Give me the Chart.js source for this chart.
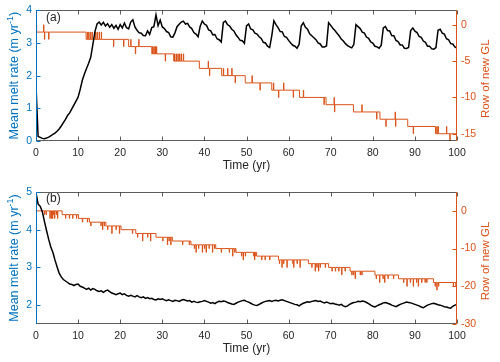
<!DOCTYPE html>
<html>
<head>
<meta charset="utf-8">
<script src="https://cdn.jsdelivr.net/npm/chart.js@4.4.0/dist/chart.umd.min.js"></script>
<style>
  html, body { margin: 0; padding: 0; background: #fff; }
  canvas { display: block; }
</style>
</head>
<body>
<canvas id="panel-a" width="500" height="181"></canvas>
<canvas id="panel-b" width="500" height="181"></canvas>
<script>
// Sampling interval of the melt-rate series (yr)
const meltStep = 0.5;

// Panel (a): mean melt rate, t = 0..100 every 0.5 yr
const meltA = [
  1.70, 0.14, 0.11, 0.08, 0.07, 0.09, 0.12, 0.16, 0.20, 0.24,
  0.30, 0.37, 0.46, 0.56, 0.66, 0.78, 0.86, 0.98, 1.10, 1.22,
  1.34, 1.58, 1.86, 2.05, 2.22, 2.38, 2.56, 2.95, 3.35, 3.58,
  3.64, 3.55, 3.63, 3.52, 3.59, 3.48, 3.56, 3.45, 3.54, 3.42,
  3.56, 3.46, 3.61, 3.47, 3.43, 3.64, 3.71, 3.49, 3.39, 3.31,
  3.30, 3.23, 3.22, 3.37, 3.26, 3.47, 3.50, 3.86, 3.53, 3.70,
  3.49, 3.44, 3.35, 3.32, 3.19, 3.18, 3.31, 3.50, 3.57, 3.64,
  3.67, 3.58, 3.60, 3.49, 3.44, 3.32, 3.27, 3.19, 3.51, 3.67,
  3.58, 3.54, 3.40, 3.37, 3.25, 3.26, 3.13, 3.10, 3.03, 3.63,
  3.67, 3.56, 3.52, 3.42, 3.37, 3.25, 3.17, 3.08, 3.07, 2.99,
  3.52, 3.58, 3.43, 3.40, 3.30, 3.27, 3.19, 3.14, 3.02, 3.00,
  2.90, 2.86, 3.22, 3.68, 3.56, 3.47, 3.35, 3.34, 3.20, 3.17,
  3.08, 3.00, 2.93, 2.90, 2.84, 2.96, 3.52, 3.62, 3.48, 3.42,
  3.28, 3.22, 3.16, 3.10, 3.00, 2.97, 2.88, 2.88, 2.91, 3.62,
  3.54, 3.45, 3.38, 3.30, 3.22, 3.12, 3.06, 2.98, 2.92, 2.88,
  2.85, 2.96, 3.56, 3.50, 3.44, 3.33, 3.30, 3.18, 3.14, 3.03,
  3.00, 2.90, 2.88, 2.84, 2.93, 3.46, 3.50, 3.38, 3.37, 3.23,
  3.22, 3.08, 3.04, 2.94, 2.94, 2.84, 2.83, 2.86, 3.38, 3.46,
  3.36, 3.32, 3.20, 3.17, 3.06, 3.02, 2.90, 2.90, 2.82, 2.81,
  2.86, 3.39, 3.42, 3.30, 3.27, 3.13, 3.10, 2.98, 2.97, 2.88,
  2.84
];

// Panel (a): row of new grounding line (steps, then short excursions)
const glStepTimesA = [0, 0.15, 11.9, 22.0, 27.5, 32.7, 38.8, 44.1, 49.7, 56.0, 62.6, 68.9, 75.4, 81.7, 88.3, 94.9];
const glStepRowsA  = [0, -1, -2, -3, -4, -5, -6, -7, -8, -9, -10, -11, -12, -13, -14, -15];
const glSpikeTimesA = [1.8, 2.0, 3.0, 12.2, 12.5, 12.9, 13.3, 14.1, 14.5, 15.0, 15.5,
  18.4, 20.8, 22.5, 23.6, 24.4, 27.7, 28.0, 28.3, 28.6, 30.7,
  32.9, 33.3, 33.7, 34.1, 34.5, 35.0, 40.9, 41.2, 44.5, 45.5, 46.5, 47.3,
  51.3, 53.2, 56.4, 57.6, 58.8, 61.1, 63.5, 68.4, 70.8, 70.9, 77.4,
  80.9, 83.1, 85.3, 85.4, 89.6, 95.2, 95.5, 97.5, 98.3];
const glSpikeRowsA = [0, -2, -2, -1, -1, -1, -1, -1, -1, -1, -1,
  -3, -3, -2, -4, -2, -3, -3, -3, -3, -5,
  -4, -4, -4, -4, -4, -4, -5, -7, -6, -6, -6, -8,
  -7, -9, -8, -10, -8, -10, -9, -11, -10, -12, -11,
  -13, -14, -12, -14, -15, -14, -14, -14, -16];

// Panel (b): mean melt rate, t = 0..100 every 0.5 yr
const meltB = [
  4.98, 4.68, 4.62, 4.48, 4.22, 3.98, 3.75, 3.55, 3.40, 3.20,
  3.02, 2.85, 2.75, 2.68, 2.64, 2.60, 2.56, 2.55, 2.52, 2.55,
  2.56, 2.50, 2.48, 2.45, 2.42, 2.45, 2.40, 2.44, 2.42, 2.38,
  2.36, 2.38, 2.34, 2.38, 2.40, 2.36, 2.32, 2.30, 2.28, 2.30,
  2.32, 2.28, 2.30, 2.26, 2.24, 2.26, 2.24, 2.22, 2.25, 2.22,
  2.20, 2.22, 2.18, 2.20, 2.17, 2.18, 2.15, 2.14, 2.17, 2.15,
  2.17, 2.14, 2.12, 2.14, 2.12, 2.10, 2.13, 2.12, 2.10, 2.13,
  2.15, 2.13, 2.11, 2.12, 2.08, 2.10, 2.08, 2.07, 2.09, 2.10,
  2.12, 2.10, 2.08, 2.05, 2.07, 2.04, 2.08, 2.10, 2.09, 2.11,
  2.10, 2.07, 2.05, 2.03, 2.02, 2.05, 2.08, 2.10, 2.12, 2.13,
  2.10, 2.08, 2.05, 2.02, 2.00, 1.99, 2.02, 2.05, 2.08, 2.10,
  2.11, 2.12, 2.10, 2.12, 2.13, 2.11, 2.13, 2.14, 2.12, 2.10,
  2.08, 2.06, 2.04, 2.02, 2.01, 1.98, 2.02, 2.05, 2.07, 2.09,
  2.08, 2.10, 2.11, 2.12, 2.10, 2.11, 2.08, 2.06, 2.08, 2.06,
  2.04, 2.05, 2.03, 2.02, 2.00, 2.02, 1.98, 1.96, 1.98, 2.02,
  2.05, 2.07, 2.08, 2.10, 2.09, 2.11, 2.10, 2.07, 2.04, 2.00,
  1.97, 1.95, 1.98, 2.01, 2.03, 2.06, 2.07, 2.05, 2.03, 2.00,
  1.98, 1.96, 1.99, 2.02, 2.04, 2.06, 2.08, 2.07, 2.06, 2.04,
  2.02, 2.00, 1.98, 1.95, 1.93, 1.97, 2.00, 2.02, 2.04, 2.05,
  2.03, 2.01, 2.00, 1.98, 1.96, 1.95, 1.93, 1.92, 1.97, 2.00,
  2.02
];

// Panel (b): row of new grounding line
const glStepTimesB = [0, 6.2, 10.1, 12.7, 16.6, 20.2, 23.7, 28.5, 32.4, 36.8, 42.7, 47.5, 52.4, 57.6, 64.7, 69.5, 74.6, 80.5, 86.1, 94.4, 99.7];
const glStepRowsB  = [0, -1, -2, -3, -4, -5, -6, -7, -8, -9, -10, -11, -12, -13, -14, -15, -16, -17, -18, -19, -20];
const glSpikeTimesB = [2.0, 2.4, 3.3, 3.6, 3.9, 4.1, 4.4, 4.8, 5.1,
  7.0, 7.9, 8.7, 9.6, 11.0, 12.2, 13.0, 15.4, 15.8, 16.2,
  17.0, 18.0, 19.0, 19.8, 22.9, 24.1, 25.3, 26.5, 27.2,
  30.1, 31.2, 31.6, 32.0, 34.8, 36.4,
  37.6, 38.0, 38.6, 39.5, 40.0, 40.4, 41.1, 41.9, 42.4,
  44.0, 45.9, 46.7, 47.2, 48.8, 49.2, 49.7, 51.7, 51.9, 52.0,
  53.6, 54.4, 55.5, 57.8, 58.4, 58.8, 59.6, 61.0, 61.2, 62.0, 62.7,
  65.5, 66.3, 66.7, 67.1, 67.5, 68.7, 70.3, 71.1, 71.9, 72.6, 73.4,
  75.0, 75.4, 75.8, 77.0, 77.4, 80.8, 81.6, 82.4, 82.8, 83.6, 84.9,
  87.3, 88.1, 88.9, 89.6, 90.4, 90.8, 91.6, 92.4, 92.8,
  94.8, 95.2, 95.6, 99.1];
const glSpikeRowsB = [-1, -1, -2, -2, -2, -1, -2, -1, -2,
  -2, -2, -2, -2, -3, -3, -4, -4, -5, -4,
  -5, -6, -5, -6, -6, -7, -8, -7, -8,
  -8, -9, -8, -9, -9, -9,
  -10, -11, -10, -11, -10, -11, -10, -11, -10,
  -11, -11, -12, -11, -12, -13, -12, -12, -13, -12,
  -13, -13, -13, -14, -15, -14, -15, -14, -15, -14, -15,
  -15, -16, -15, -16, -15, -15, -16, -16, -16, -17, -16,
  -17, -17, -18, -17, -17, -18, -19, -18, -19, -18, -18,
  -19, -20, -19, -20, -19, -20, -19, -19, -19,
  -20, -21, -20, -20];

// Tick labels
const xTicks = [0, 10, 20, 30, 40, 50, 60, 70, 80, 90, 100];
const leftTicksA = [0, 1, 2, 3, 4];
const rightTicksA = [-15, -10, -5, 0];
const leftTicksB = [2, 3, 4, 5];
const rightTicksB = [-30, -20, -10, 0];

const BLUE = '#0072BD';
const ORANGE = '#D95319';
const DARK = '#262626';
const FONT = '"Liberation Sans", Arial, Helvetica, sans-serif';
const TICK_FONT = { family: FONT, size: 10.5 };

function meltPoints(values) {
  return values.map((v, i) => ({ x: i * meltStep, y: v }));
}

// step function plus one-sample excursions
function glPoints(stepTimes, stepRows, spikeTimes, spikeRows) {
  const levelAt = t => {
    let r = stepRows[0];
    stepTimes.forEach((s, i) => { if (s <= t) r = stepRows[i]; });
    return r;
  };
  const pts = stepTimes.map((t, i) => ({ x: t, y: stepRows[i] }));
  spikeTimes.forEach((t, i) => {
    pts.push({ x: t, y: spikeRows[i] });
    pts.push({ x: t + 0.08, y: levelAt(t) });
  });
  pts.push({ x: 100, y: levelAt(100) });
  pts.sort((p, q) => p.x - q.x);
  return pts;
}

function fixedTicks(values) {
  return scale => { scale.ticks = values.map(v => ({ value: v })); };
}

// MATLAB-like box, inward ticks and axis titles
const matlabAxes = {
  id: 'matlabAxes',
  afterDraw(chart, args, opts) {
    const ctx = chart.ctx;
    const a = chart.chartArea;
    const sx = chart.scales.x, yL = chart.scales.yL, yR = chart.scales.yR;
    const L = Math.round(a.left) + 0.5, R = Math.round(a.right) - 0.5;
    const T = Math.round(a.top) + 0.5, B = Math.round(a.bottom) - 0.5;
    const tick = 4;
    ctx.save();
    ctx.lineWidth = 1;

    ctx.strokeStyle = 'rgba(38,38,38,0.75)';
    ctx.beginPath();
    ctx.moveTo(L, B); ctx.lineTo(R, B);
    ctx.moveTo(L, T); ctx.lineTo(R, T);
    xTicks.forEach(v => {
      const px = Math.round(sx.getPixelForValue(v)) + 0.5;
      ctx.moveTo(px, B); ctx.lineTo(px, B - tick);
      ctx.moveTo(px, T); ctx.lineTo(px, T + tick);
    });
    ctx.stroke();

    ctx.strokeStyle = BLUE;
    ctx.beginPath();
    ctx.moveTo(L, T - 0.5); ctx.lineTo(L, B + 0.5);
    yL.ticks.forEach(t => {
      const py = Math.round(yL.getPixelForValue(t.value)) + 0.5;
      ctx.moveTo(L, py); ctx.lineTo(L + tick, py);
    });
    ctx.stroke();

    ctx.strokeStyle = ORANGE;
    ctx.beginPath();
    ctx.moveTo(R, T - 0.5); ctx.lineTo(R, B + 0.5);
    yR.ticks.forEach(t => {
      const py = Math.round(yR.getPixelForValue(t.value)) + 0.5;
      ctx.moveTo(R, py); ctx.lineTo(R - tick, py);
    });
    ctx.stroke();

    const midY = (a.top + a.bottom) / 2;
    ctx.textBaseline = 'middle';

    // left title with superscript
    ctx.save();
    ctx.translate(15, midY);
    ctx.rotate(-Math.PI / 2);
    ctx.fillStyle = BLUE;
    const main = 'Mean melt rate (m yr', sup = '-1', tail = ')';
    ctx.font = '12.5px ' + FONT;
    const w1 = ctx.measureText(main).width, w3 = ctx.measureText(tail).width;
    ctx.font = '9px ' + FONT;
    const w2 = ctx.measureText(sup).width;
    const x0 = -(w1 + w2 + w3) / 2;
    ctx.textAlign = 'left';
    ctx.font = '12.5px ' + FONT;
    ctx.fillText(main, x0, 0);
    ctx.font = '9px ' + FONT;
    ctx.fillText(sup, x0 + w1, -4.5);
    ctx.font = '12.5px ' + FONT;
    ctx.fillText(tail, x0 + w1 + w2, 0);
    ctx.restore();

    // right title
    ctx.save();
    ctx.translate(486, midY + 3);
    ctx.rotate(-Math.PI / 2);
    ctx.fillStyle = ORANGE;
    ctx.font = '11.5px ' + FONT;
    ctx.textAlign = 'center';
    ctx.fillText('Row of new GL', 0, 0);
    ctx.restore();

    // x title
    ctx.fillStyle = DARK;
    ctx.font = '12px ' + FONT;
    ctx.textAlign = 'center';
    ctx.fillText('Time (yr)', (a.left + a.right) / 2, a.bottom + opts.xTitleGap);

    // panel label
    ctx.textAlign = 'left';
    ctx.fillText(opts.label, a.left + 10, a.top + 7);
    ctx.restore();
  }
};

function makePanel(id, cfg) {
  return new Chart(document.getElementById(id), {
    type: 'line',
    data: {
      datasets: [
        {
          data: meltPoints(cfg.melt),
          yAxisID: 'yL',
          borderColor: '#000',
          borderWidth: 1.5,
          pointRadius: 0,
          tension: 0
        },
        {
          data: glPoints(cfg.stepTimes, cfg.stepRows, cfg.spikeTimes, cfg.spikeRows),
          yAxisID: 'yR',
          borderColor: ORANGE,
          borderWidth: 1,
          pointRadius: 0,
          stepped: 'before'
        }
      ]
    },
    options: {
      responsive: false,
      animation: false,
      devicePixelRatio: 1,
      events: [],
      layout: { padding: { top: cfg.top, left: 0, right: 0, bottom: 0 } },
      plugins: {
        legend: { display: false },
        tooltip: { enabled: false },
        matlabAxes: { label: cfg.label, xTitleGap: 25 }
      },
      scales: {
        x: {
          type: 'linear',
          min: 0,
          max: 100,
          afterBuildTicks: fixedTicks(xTicks),
          afterFit: s => { s.height = cfg.xHeight; },
          grid: { display: false, drawTicks: false },
          border: { display: false },
          ticks: { color: DARK, padding: 6, maxRotation: 0, font: TICK_FONT }
        },
        yL: {
          position: 'left',
          min: cfg.leftMin,
          max: cfg.leftMax,
          afterBuildTicks: fixedTicks(cfg.leftTicks),
          afterFit: s => { s.width = 36; },
          grid: { display: false, drawTicks: false },
          border: { display: false },
          ticks: { color: BLUE, padding: 4, font: TICK_FONT }
        },
        yR: {
          position: 'right',
          min: cfg.rightMin,
          max: cfg.rightMax,
          afterBuildTicks: fixedTicks(cfg.rightTicks),
          afterFit: s => { s.width = 43; },
          grid: { display: false, drawTicks: false },
          border: { display: false },
          ticks: { color: ORANGE, padding: 4, font: TICK_FONT }
        }
      }
    },
    plugins: [matlabAxes]
  });
}

makePanel('panel-a', {
  label: '(a)', top: 9, xHeight: 40,
  melt: meltA,
  stepTimes: glStepTimesA, stepRows: glStepRowsA,
  spikeTimes: glSpikeTimesA, spikeRows: glSpikeRowsA,
  leftMin: 0, leftMax: 4, leftTicks: leftTicksA,
  rightMin: -16, rightMax: 2, rightTicks: rightTicksA
});

makePanel('panel-b', {
  label: '(b)', top: 11, xHeight: 38,
  melt: meltB,
  stepTimes: glStepTimesB, stepRows: glStepRowsB,
  spikeTimes: glSpikeTimesB, spikeRows: glSpikeRowsB,
  leftMin: 1.5, leftMax: 5, leftTicks: leftTicksB,
  rightMin: -30, rightMax: 5, rightTicks: rightTicksB
});
</script>
</body>
</html>
